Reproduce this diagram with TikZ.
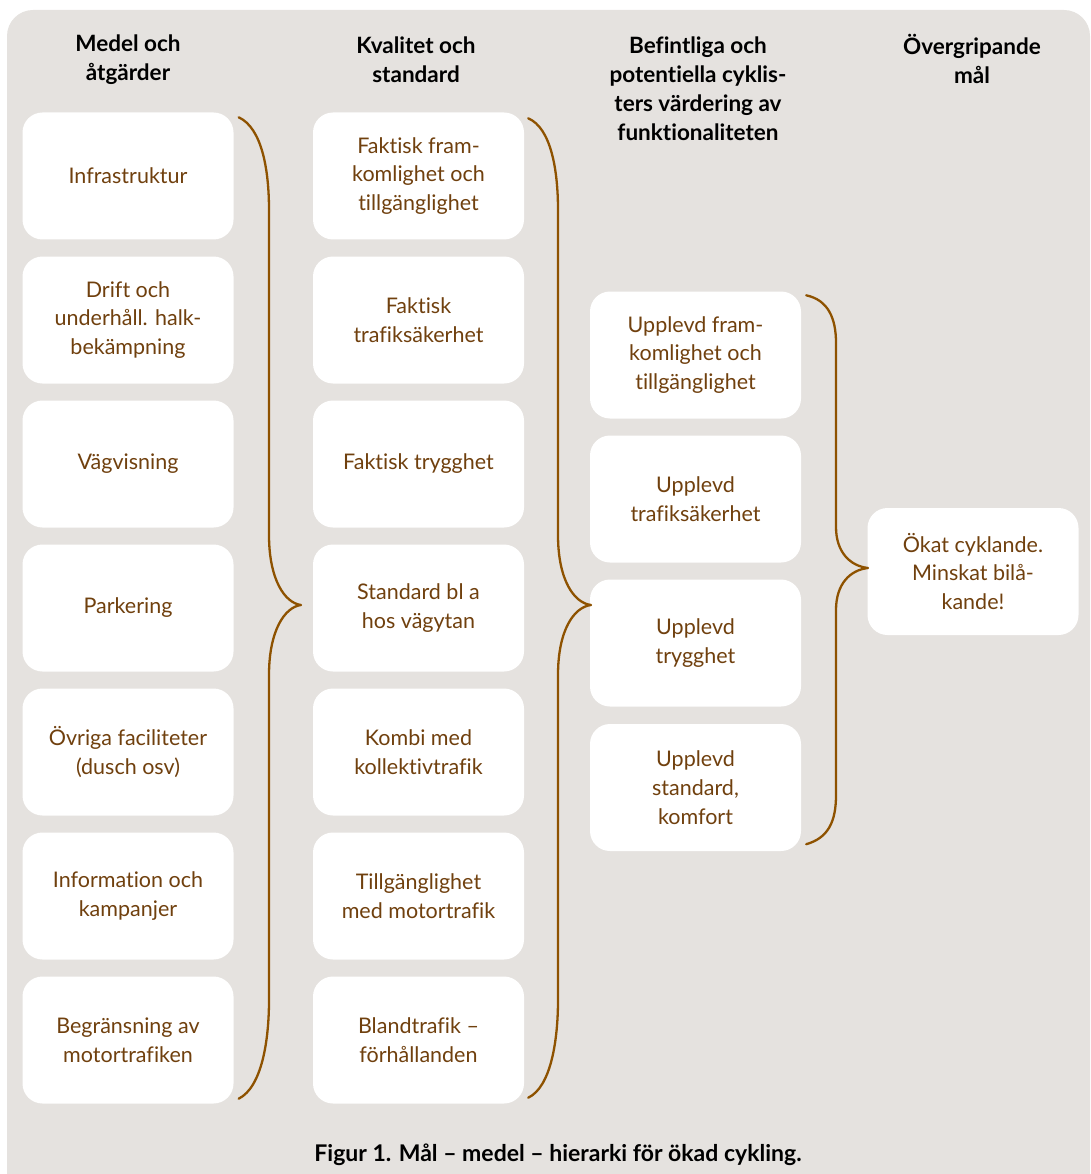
\documentclass[tikz,border=0pt]{standalone}
\usepackage{fontspec}
\setmainfont{Lato}[Ligatures={NoCommon}]
\definecolor{bg}{HTML}{E5E2DF}
\definecolor{txt}{HTML}{70400E}
\definecolor{brc}{HTML}{8E5200}
\begin{document}
\begin{tikzpicture}[x=1pt,y=-1pt,
  box/.style={draw=none,fill=white,rounded corners=20pt,minimum width=211pt,minimum height=127pt,
    align=center,text=txt,font=\fontsize{21.5}{28.7}\selectfont,inner sep=0pt},
  head/.style={align=center,font=\fontsize{22.5}{29}\selectfont\bfseries,text=black},
  brace/.style={draw=brc,line width=2.3pt,line cap=round,line join=round}]
\useasboundingbox (0,0) rectangle (1090,1174);
\fill[bg,rounded corners=26pt] (7,1174) -- (7,10) -- (1090,10) -- (1090,1174);
\fill[bg] (1050,1100) rectangle (1090,1174);
\fill[bg] (7,1140) rectangle (60,1174);
% headers
\node[head] (h1) at (128,60) {Medel och\\åtgärder};
\node[head] (h2) at (416,60) {Kvalitet och\\standard};
\node[head] (h3) at (698,88.5) {Befintliga och\\potentiella cyklis-\\ters värdering av\\funktionaliteten};
\node[head] (h4) at (972,59) {Övergripande\\mål};
% column 1
\node[box] (a1) at (128,176) {Infrastruktur};
\node[box] (a2) at (128,320) {Drift och\\underhåll. halk-\\bekämpning};
\node[box] (a3) at (128,464) {Vägvisning};
\node[box] (a4) at (128,608) {Parkering};
\node[box] (a5) at (128,752) {Övriga faciliteter\\(dusch osv)};
\node[box] (a6) at (128,896) {Information och\\kampanjer};
\node[box] (a7) at (128,1040) {Begränsning av\\motortrafiken};
% column 2
\node[box] (b1) at (418.5,176) {Faktisk fram-\\komlighet och\\tillgänglighet};
\node[box] (b2) at (418.5,320) {Faktisk\\trafiksäkerhet};
\node[box] (b3) at (418.5,464) {Faktisk trygghet};
\node[box] (b4) at (418.5,608) {Standard bl a\\hos vägytan};
\node[box] (b5) at (418.5,752) {Kombi med\\kollektivtrafik};
\node[box] (b6) at (418.5,896) {Tillgänglighet\\med motortrafik};
\node[box] (b7) at (418.5,1040) {Blandtrafik –\\förhållanden};
% column 3
\node[box] (c1) at (695.5,355) {Upplevd fram-\\komlighet och\\tillgänglighet};
\node[box] (c2) at (695.5,499) {Upplevd\\trafiksäkerhet};
\node[box] (c3) at (695.5,643) {Upplevd\\trygghet};
\node[box] (c4) at (695.5,787.5) {Upplevd\\standard,\\komfort};
% column 4
\node[box] (d1) at (973,571.5) {Ökat cyklande.\\Minskat bilå-\\kande!};
% caption
\node[font=\fontsize{23}{28}\selectfont\bfseries,text=black] (cap) at (558,1155) {Figur 1. Mål – medel – hierarki för ökad cykling.};
% braces
\coordinate (t1) at (301,605);
\coordinate (t2) at (591,605);
\coordinate (t3) at (868,568);
\draw[brace] ([xshift=5pt,yshift=-5pt]a1.north east) .. controls (262,128) and (269,170) .. (269,210)
  -- (269,535) .. controls (269,580) and (285,603) .. (t1)
  .. controls (285,607) and (269,630) .. (269,675)
  -- (269,1000) .. controls (269,1040) and (262,1087) .. ([xshift=5pt,yshift=5pt]a7.south east);
\draw[brace] ([xshift=4pt,yshift=-6pt]b1.north east) .. controls (551,128) and (558,170) .. (558,210)
  -- (558,535) .. controls (558,580) and (574,603) .. (t2)
  .. controls (574,607) and (558,630) .. (558,675)
  -- (558,1000) .. controls (558,1040) and (551,1087) .. ([xshift=4pt,yshift=6pt]b7.south east);
\draw[brace] ([xshift=5pt,yshift=-4pt]c1.north east) .. controls (828,300) and (836,318) .. (836,343)
  -- (836,527) .. controls (836,552) and (850,566) .. (t3)
  .. controls (850,570) and (836,584) .. (836,610)
  -- (836,795) .. controls (836,822) and (828,838) .. ([xshift=5pt,yshift=7pt]c4.south east);
\end{tikzpicture}
\end{document}
